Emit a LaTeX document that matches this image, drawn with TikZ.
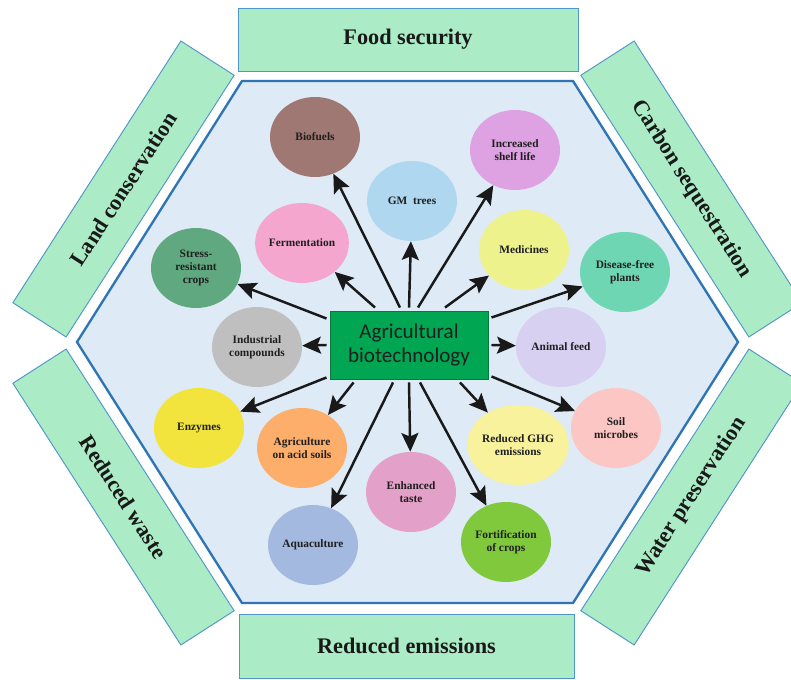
\documentclass[tikz,border=0pt]{standalone}
\usepackage{fontspec}
\setmainfont{Liberation Serif}
\newfontfamily\calfont{Carlito}
\usetikzlibrary{shapes.geometric,arrows.meta,calc}
\definecolor{hexfill}{RGB}{222,234,245}
\definecolor{hexline}{RGB}{46,117,182}
\definecolor{boxfill}{RGB}{171,235,198}
\definecolor{boxline}{RGB}{80,150,200}
\definecolor{ctrfill}{RGB}{0,166,81}
\definecolor{ctrline}{RGB}{10,120,60}
\definecolor{cBio}{RGB}{160,120,115}
\definecolor{cFer}{RGB}{244,166,207}
\definecolor{cStr}{RGB}{96,168,128}
\definecolor{cGM}{RGB}{175,215,240}
\definecolor{cShe}{RGB}{222,162,226}
\definecolor{cMed}{RGB}{238,242,140}
\definecolor{cDis}{RGB}{110,214,178}
\definecolor{cAni}{RGB}{215,208,240}
\definecolor{cInd}{RGB}{191,191,191}
\definecolor{cEnz}{RGB}{242,228,60}
\definecolor{cAci}{RGB}{253,174,107}
\definecolor{cAqu}{RGB}{163,185,224}
\definecolor{cTas}{RGB}{227,160,200}
\definecolor{cGHG}{RGB}{248,242,156}
\definecolor{cSoi}{RGB}{252,198,196}
\definecolor{cFor}{RGB}{128,200,60}
\begin{document}
\begin{tikzpicture}[x=0.03cm,y=-0.03cm,
  bubble/.style={ellipse, minimum width=2.7cm, minimum height=2.4cm, inner sep=0pt,
    align=center, font=\fontsize{9.7}{11.3}\selectfont\bfseries, text=black!88},
  outerbox/.style={draw=boxline, fill=boxfill, line width=0.8pt, inner sep=0pt,
    font=\fontsize{19}{22}\selectfont\bfseries, text=black!90},
  arr/.style={-{Stealth[length=16pt,width=14.5pt,inset=3pt]}, line width=2.1pt, draw=black!90}]
\useasboundingbox (0,0) rectangle (791,680);
\clip (0,0) rectangle (791,680);
\fill[white] (0,0) rectangle (791,680);
% hexagon
\draw[fill=hexfill, draw=hexline, line width=2pt, line join=miter]
  (242,81) -- (573,81) -- (738,342) -- (573,603) -- (242,603) -- (77,342) -- cycle;
% outer boxes
\node[outerbox, minimum width=10.2cm, minimum height=1.89cm] (food) at (408,39.5) {Food security};
\node[outerbox, minimum width=10.05cm, minimum height=1.92cm] (emis) at (406.5,646) {Reduced emissions};
\node[outerbox, minimum width=9.33cm, minimum height=1.9cm, rotate=57.3] (land) at (123.5,189) {Land conservation};
\node[outerbox, minimum width=9.33cm, minimum height=1.9cm, rotate=-57.3] (waste) at (123.5,497) {Reduced waste};
\node[outerbox, minimum width=9.33cm, minimum height=1.9cm, rotate=-57.3] (carbon) at (691.5,189) {Carbon sequestration};
\node[outerbox, minimum width=9.33cm, minimum height=1.9cm, rotate=57.3] (water) at (691.5,497) {Water preservation};
% bubbles
\node[bubble, fill=cBio] (bio) at (315,137) {Biofuels};
\node[bubble, fill=cFer] (fer) at (302,243) {Fermentation};
\node[bubble, fill=cStr] (str) at (196,268) {Stress-\\resistant\\crops};
\node[bubble, fill=cGM] (gm) at (412,201) {GM\ \ trees};
\node[bubble, fill=cShe] (she) at (515,150) {Increased\\shelf life};
\node[bubble, fill=cMed] (med) at (524,250) {Medicines};
\node[bubble, fill=cDis] (dis) at (625,272) {Disease-free\\plants};
\node[bubble, fill=cAni] (ani) at (561,347) {Animal feed};
\node[bubble, fill=cInd] (ind) at (257,347) {Industrial\\compounds};
\node[bubble, fill=cEnz] (enz) at (199,428) {Enzymes};
\node[bubble, fill=cAci] (aci) at (302,448) {Agriculture\\on acid soils};
\node[bubble, fill=cAqu] (aqu) at (313,545) {Aquaculture};
\node[bubble, fill=cTas] (tas) at (411,492) {Enhanced\\taste};
\node[bubble, fill=cGHG] (ghg) at (518,445) {Reduced GHG\\emissions};
\node[bubble, fill=cSoi] (soi) at (616,428) {Soil\\microbes};
\node[bubble, fill=cFor] (for) at (506,542) {Fortification\\of crops};
% centre
\node[draw=ctrline, fill=ctrfill, line width=0.8pt, minimum width=4.74cm, minimum height=2.04cm,
  inner sep=0pt, align=center, text=black!88, font=\calfont\fontsize{18}{21}\selectfont] (ctr) at (409,345)
  {Agricultural\\biotechnology};
% arrows
\draw[arr] ($(ctr.north)+(-9,-3)$) -- (bio);
\draw[arr] ($(ctr.north)+(-34,-3)$) -- (fer);
\draw[arr] ($(ctr.north)+(0,-3)$) -- (gm);
\draw[arr] ($(ctr.north)+(9,-3)$) -- (she);
\draw[arr] ($(ctr.north)+(36,-3)$) -- (med);
\draw[arr] ($(ctr.north west)+(-3,8)$) -- (str);
\draw[arr] ($(ctr.north east)+(3,7)$) -- (dis);
\draw[arr] ($(ctr.west)+(-3,0)$) -- (ind);
\draw[arr] ($(ctr.east)+(3,0)$) -- (ani);
\draw[arr] ($(ctr.south west)+(-3,-2)$) -- (enz);
\draw[arr] ($(ctr.south west)+(24,3)$) -- (aci);
\draw[arr] ($(ctr.south)+(-16,3)$) -- (aqu);
\draw[arr] ($(ctr.south)+(0,3)$) -- (tas);
\draw[arr] ($(ctr.south)+(11,3)$) -- (for);
\draw[arr] ($(ctr.south)+(51,3)$) -- (ghg);
\draw[arr] ($(ctr.south east)+(3,-3)$) -- (soi);
\end{tikzpicture}
\end{document}
